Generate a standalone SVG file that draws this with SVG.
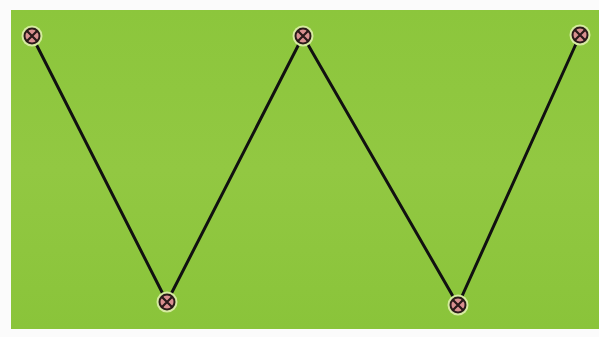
<svg xmlns="http://www.w3.org/2000/svg" width="599" height="337" viewBox="0 0 599 337">
<defs>
<linearGradient id="bg" x1="0" y1="0" x2="0" y2="1">
<stop offset="0" stop-color="#8cc63c"/>
<stop offset="0.5" stop-color="#92c842"/>
<stop offset="1" stop-color="#8ac43a"/>
</linearGradient>
<g id="mk">
<circle r="10.5" fill="#d6eba0"/>
<circle r="8.5" fill="#2a1a1a"/>
<circle r="6.5" fill="#d99090"/>
<path d="M-5,-5 L5,5 M-5,5 L5,-5" stroke="#2a1a1a" stroke-width="2.2"/>
</g>
</defs>
<style>
.ln{stroke:#111;stroke-width:3;fill:none;stroke-linecap:round}
</style>
<rect width="599" height="337" fill="#fbfbfb"/>
<rect x="11" y="10" width="588" height="319" fill="url(#bg)"/>
<g id="connectors">
<line class="ln" x1="32" y1="36" x2="167" y2="302"/>
<line class="ln" x1="167" y1="302" x2="303" y2="36"/>
<line class="ln" x1="303" y1="36" x2="458" y2="305"/>
<line class="ln" x1="458" y1="305" x2="580" y2="35"/>
</g>
<g id="n1"><use href="#mk" x="32" y="36"/></g>
<g id="n2"><use href="#mk" x="167" y="302"/></g>
<g id="n3"><use href="#mk" x="303" y="36"/></g>
<g id="n4"><use href="#mk" x="458" y="305"/></g>
<g id="n5"><use href="#mk" x="580" y="35"/></g>
</svg>
